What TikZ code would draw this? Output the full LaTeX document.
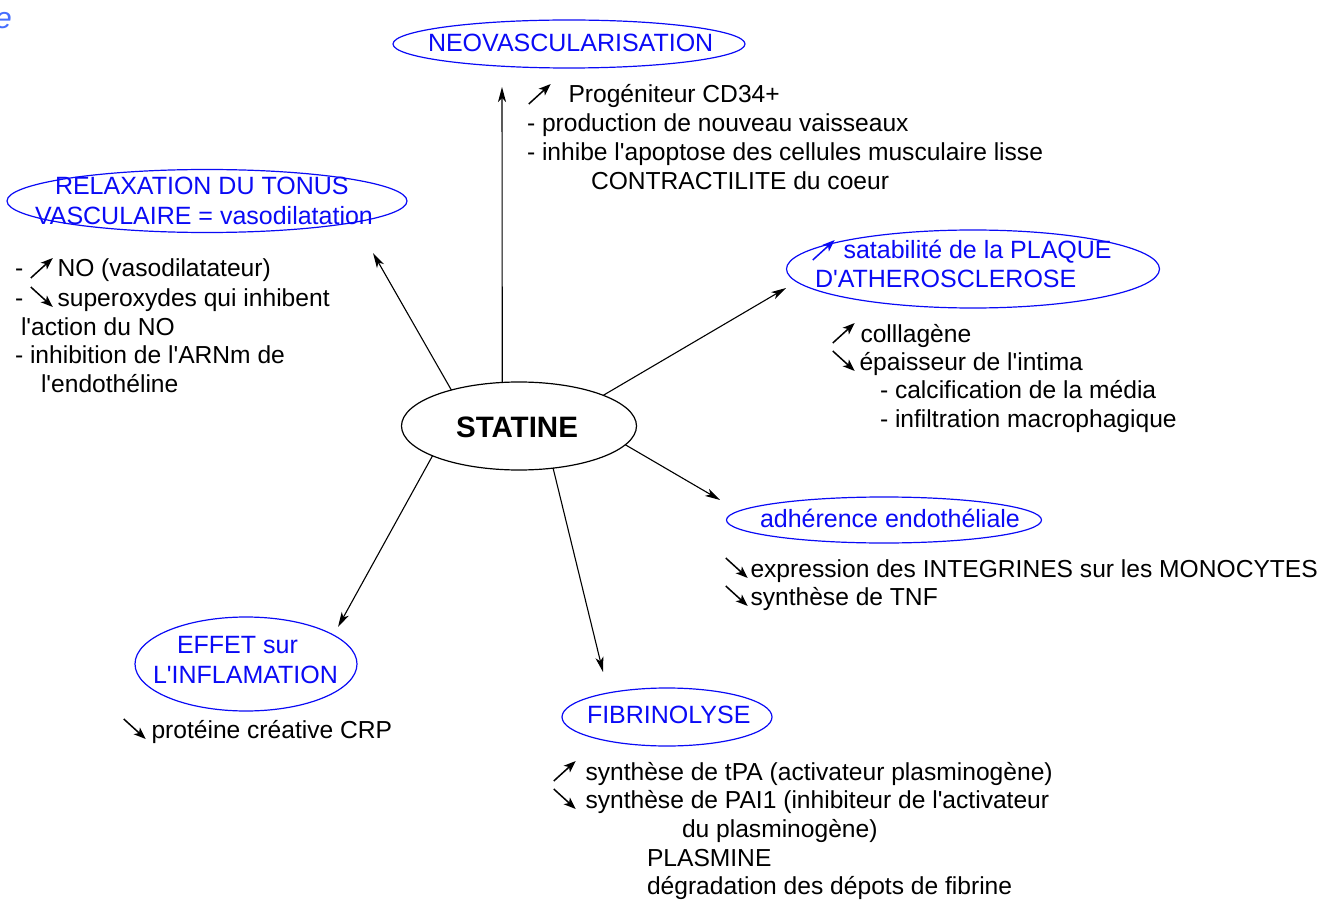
\documentclass[tikz,border=0pt]{standalone}
\usepackage{fontspec}
\setmainfont{Liberation Sans}
\usetikzlibrary{shapes.geometric,arrows.meta}
\definecolor{tb}{RGB}{10,10,245}
\definecolor{tl}{RGB}{70,110,255}
\newcommand\fs{\fontsize{24.6}{29}\selectfont}
\newcommand\bfs{\fontsize{25}{29}\selectfont}
\newcommand\q{\textquotesingle}
\newcommand\upar[1][black]{\tikz[baseline=0pt,x=1pt,y=1pt]\draw[#1,line width=1.5pt,-{Stealth[length=12pt,width=9pt,inset=3pt]}] (0,-1)--(22,19);}
\newcommand\dnar[1][black]{\tikz[baseline=0pt,x=1pt,y=1pt]\draw[#1,line width=1.5pt,-{Stealth[length=12pt,width=9pt,inset=3pt]}] (0,19)--(22,-1);}
\tikzset{
  ell/.style={ellipse, draw=black, line width=1.2pt, inner sep=0pt, outer sep=0pt},
  bell/.style={ell, draw=tb},
  txt/.style={inner sep=0pt, outer sep=0pt, anchor=base west, font=\fs, text=black},
  btxt/.style={txt, font=\bfs, text=tb},
  conn/.style={line width=1.1pt, draw=black, -{Stealth[length=15pt,width=8pt,inset=4pt]}},
}
\begin{document}
\begin{tikzpicture}[x=1pt,y=-1pt]
\useasboundingbox (0,0) rectangle (1317,901);
\node[inner sep=0pt, anchor=base east, text=tl, font=\fontsize{30}{34}\selectfont\itshape] (cut) at (12,29) {e};

% ellipses
\node[bell, minimum width=352pt, minimum height=48pt] (neo) at (569,44) {};
\node[bell, minimum width=400pt, minimum height=63pt] (rel) at (207,201) {};
\node[bell, minimum width=373pt, minimum height=78pt] (plq) at (973,269) {};
\node[ell, minimum width=235pt, minimum height=88pt] (stat) at (519,426) {};
\node[bell, minimum width=315pt, minimum height=46pt] (adh) at (884,520) {};
\node[bell, minimum width=222pt, minimum height=94pt] (eff) at (246,664) {};
\node[bell, minimum width=210pt, minimum height=58pt] (fib) at (667,717) {};

% ellipse texts
\node[btxt] (neot) at (428,52) {NEOVASCULARISATION};
\node[btxt] (relt1) at (55,195) {RELAXATION DU TONUS};
\node[btxt] (relt2) at (35,225) {VASCULAIRE = vasodilatation};
\node[btxt] (plqt1) at (812,259) {\upar[tb]\hspace{8pt}satabilité de la PLAQUE};
\node[btxt] (plqt2) at (815,288) {D\q ATHEROSCLEROSE};
\node[inner sep=0pt, anchor=base, font=\fontsize{29.5}{34}\selectfont\bfseries] (statt) at (517,437) {STATINE};
\node[btxt] (adht) at (760,527) {adhérence endothéliale};
\node[btxt] (efft1) at (177,653) {EFFET sur};
\node[btxt] (efft2) at (153,683) {L\q INFLAMATION};
\node[btxt] (fibt) at (587,723) {FIBRINOLYSE};

% connectors
\coordinate (e1) at (502,87);
\coordinate (e2) at (373,253);
\coordinate (e3) at (786,288);
\coordinate (e4) at (720,500);
\coordinate (e5) at (603,672);
\coordinate (e6) at (338,627);
\draw[conn] (stat.111.6) -- (e1);
\draw[conn] (stat.152) -- (e2);
\draw[conn] (stat.20) -- (e3);
\draw[conn] (stat.-10.7) -- (e4);
\draw[conn] (stat.-51.3) -- (e5);
\draw[conn] (stat.199) -- (e6);

% NEOVASCULARISATION block
\node[txt] (n1) at (528,103) {\upar\hspace{17pt}Progéniteur CD34+};
\node[txt] (n2) at (527,132) {- production de nouveau vaisseaux};
\node[txt] (n3) at (527,161) {- inhibe l\q apoptose des cellules musculaire lisse};
\node[txt] (n4) at (591,190) {CONTRACTILITE du coeur};

% RELAXATION block
\node[txt] (l1) at (15,277) {- \upar\hspace{4pt}NO (vasodilatateur)};
\node[txt] (l2) at (15,306) {- \dnar\hspace{4pt}superoxydes qui inhibent};
\node[txt] (l3) at (21,335) {l\q action du NO};
\node[txt] (l4) at (15,363) {- inhibition de l\q ARNm de};
\node[txt] (l5) at (41,392) {l\q endothéline};

% PLAQUE block
\node[txt] (p1) at (832,342) {\upar\hspace{5pt}colllagène};
\node[txt] (p2) at (832,370) {\dnar\hspace{4pt}épaisseur de l\q intima};
\node[txt] (p3) at (880,398) {- calcification de la média};
\node[txt] (p4) at (880,427) {- infiltration macrophagique};

% adherence block
\node[txt] (a1) at (725,577) {\dnar\hspace{2pt}expression des INTEGRINES sur les MONOCYTES};
\node[txt] (a2) at (725,605) {\dnar\hspace{2pt}synthèse de TNF};

% EFFET block
\node[txt] (f0) at (123,738) {\dnar\hspace{5pt}protéine créative CRP};

% FIBRINOLYSE block
\node[txt] (b1) at (553,780) {\upar\hspace{9pt}synthèse de tPA (activateur plasminogène)};
\node[txt] (b2) at (553,808) {\dnar\hspace{9pt}synthèse de PAI1 (inhibiteur de l\q activateur};
\node[txt] (b3) at (682,837) {du plasminogène)};
\node[txt] (b4) at (647,866) {PLASMINE};
\node[txt] (b5) at (647,894) {dégradation des dépots de fibrine};
\end{tikzpicture}
\end{document}
